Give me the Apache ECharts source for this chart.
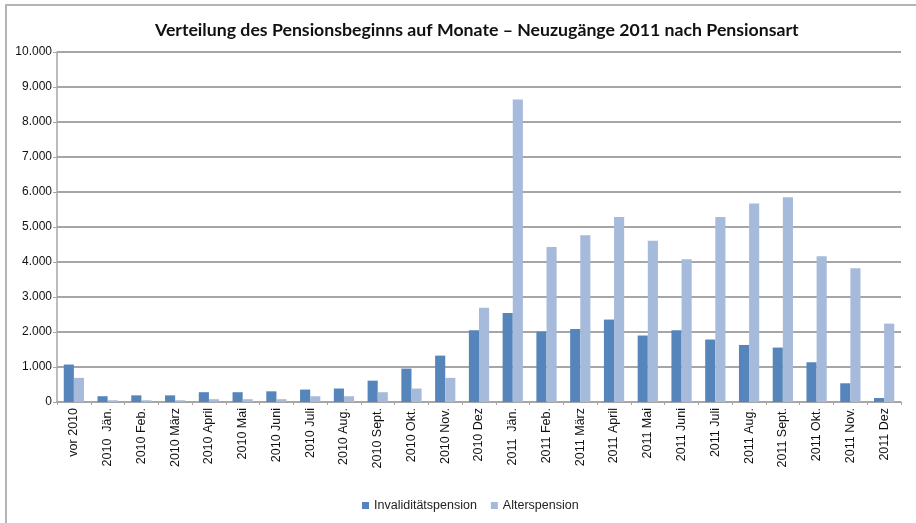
<!DOCTYPE html>
<html>
<head>
<meta charset="utf-8">
<script src="https://cdn.jsdelivr.net/npm/echarts@6/dist/echarts.min.js"></script>
<style>
html, body { margin: 0; padding: 0; background: #fff; }
#chart { width: 916px; height: 523px; }
</style>
</head>
<body>
<div id="chart"></div>
<script>
var months = ['vor 2010', '2010  Jän.', '2010 Feb.', '2010 März', '2010 April', '2010 Mai', '2010 Juni', '2010 Juli',
	'2010 Aug.', '2010 Sept.', '2010 Okt.', '2010 Nov.', '2010 Dez', '2011  Jän.', '2011 Feb.', '2011 März',
	'2011 April', '2011 Mai', '2011 Juni', '2011 Juli', '2011 Aug.', '2011 Sept.', '2011 Okt.', '2011 Nov.', '2011 Dez'];

var invaliditaet = [1070, 165, 190, 190, 280, 280, 305, 355, 385, 610, 955, 1325, 2050,
	2545, 2010, 2085, 2355, 1900, 2050, 1785, 1630, 1555, 1135, 535, 115];

var alters = [690, 50, 50, 50, 80, 80, 80, 165, 165, 280, 385, 690, 2690,
	8640, 4430, 4765, 5285, 4610, 4080, 5285, 5670, 5850, 4165, 3820, 2240];

var chart = echarts.init(document.getElementById('chart'));

function fmt(v) {
	return String(v).replace(/\B(?=(\d{3})+(?!\d))/g, '.');
}

var option = {
	backgroundColor: '#fff',
	animation: false,
	textStyle: { fontFamily: 'Liberation Sans' },
	graphic: [{
		type: 'rect',
		shape: { x: 6, y: 5, width: 940, height: 560 },
		style: { fill: 'none', stroke: '#b4b4b4', lineWidth: 2 },
		silent: true
	}],
	title: {
		text: 'Verteilung des Pensionsbeginns auf Monate – Neuzugänge 2011 nach Pensionsart',
		left: 150,
		top: 16,
		textStyle: { fontFamily: 'Lato', fontWeight: 'bold', fontSize: 17.7, color: '#111' }
	},
	legend: {
		bottom: 6,
		left: 357,
		itemWidth: 7,
		itemHeight: 7,
		itemGap: 14,
		icon: 'rect',
		textStyle: { fontSize: 12.5, color: '#222', fontFamily: 'Liberation Sans' },
		data: ['Invaliditätspension', 'Alterspension']
	},
	grid: { left: 57, right: 15, top: 52, bottom: 121 },
	xAxis: {
		type: 'category',
		data: months,
		axisLine: { lineStyle: { color: '#a6a6a6', width: 1.5 } },
		axisTick: { show: true, length: 3, lineStyle: { color: '#a6a6a6' } },
		axisLabel: { rotate: 90, fontSize: 12.5, color: '#111', margin: 6, interval: 0 }
	},
	yAxis: {
		type: 'value',
		min: 0,
		max: 10000,
		interval: 1000,
		axisLine: { show: true, lineStyle: { color: '#a6a6a6', width: 1.5 } },
		axisTick: { show: true, length: 4, lineStyle: { color: '#a6a6a6' } },
		axisLabel: { fontSize: 12, color: '#111', margin: 5, formatter: fmt },
		splitLine: { lineStyle: { color: '#a6a6a6', width: 2 } }
	},
	series: [
		{
			name: 'Invaliditätspension',
			type: 'bar',
			data: invaliditaet,
			barGap: '0%',
			barCategoryGap: '40%',
			itemStyle: { color: '#5585ba' }
		},
		{
			name: 'Alterspension',
			type: 'bar',
			data: alters,
			barCategoryGap: '40%',
			itemStyle: { color: '#a6bbdb' }
		}
	]
};

chart.setOption(option);
</script>
</body>
</html>
